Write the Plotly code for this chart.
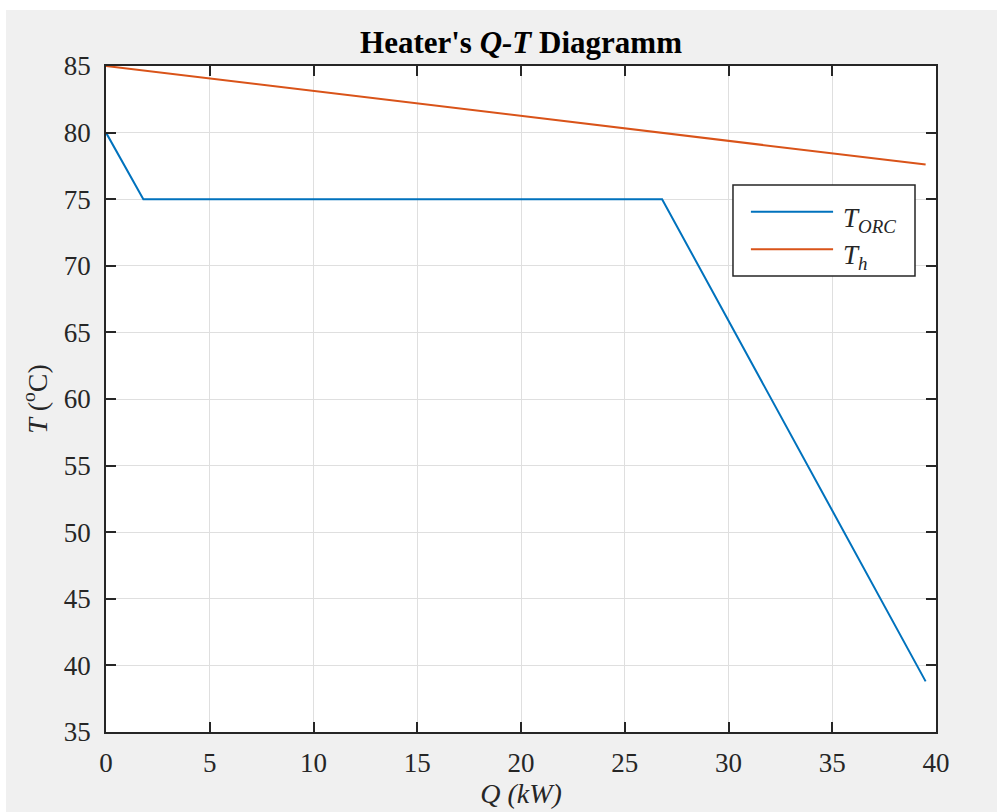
import plotly.graph_objects as go

# Heat flow (kW) and temperatures (degC) of the two streams in the heater
q_orc = [0.0, 1.8, 26.8, 39.5]
t_orc = [80.0, 75.0, 75.0, 38.8]
q_hot = [0.0, 39.5]
t_hot = [85.0, 77.6]

x_ticks = [0, 5, 10, 15, 20, 25, 30, 35, 40]
y_ticks = [35, 40, 45, 50, 55, 60, 65, 70, 75, 80, 85]

series_names = ["<i>T</i><sub><i>ORC</i></sub>", "<i>T</i><sub><i>h</i></sub>"]
series_colors = ["#0072BD", "#D95319"]

FONT = "Liberation Serif"
AXIS = "#262626"
GRID = "#dfdfdf"

fig = go.Figure()
fig.add_trace(go.Scatter(x=q_orc, y=t_orc, mode="lines", name=series_names[0],
                         line=dict(color=series_colors[0], width=2), showlegend=False))
fig.add_trace(go.Scatter(x=q_hot, y=t_hot, mode="lines", name=series_names[1],
                         line=dict(color=series_colors[1], width=2), showlegend=False))

axis_common = dict(
    showline=True, linecolor=AXIS, linewidth=1.5, mirror="allticks",
    ticks="inside", ticklen=10, tickwidth=1.5, tickcolor=AXIS,
    showgrid=True, gridcolor=GRID, gridwidth=1, zeroline=False,
    tickfont=dict(family=FONT, size=27, color=AXIS),
)

fig.update_xaxes(range=[0, 40], tickvals=x_ticks, ticklabelstandoff=6,
                 title=dict(text="<i>Q (kW)</i>", font=dict(family=FONT, size=28, color=AXIS), standoff=2),
                 **axis_common)
fig.update_yaxes(range=[35, 85], tickvals=y_ticks, ticklabelstandoff=8,
                 title=dict(text="<i>T</i> (<sup>o</sup>C)", font=dict(family=FONT, size=28, color=AXIS), standoff=8),
                 **axis_common)

# Figure frame, plot area and legend box
shapes = [
    dict(type="rect", xref="paper", yref="paper", x0=-0.1205, x1=1.0735, y0=-0.2, y1=1.084,
         fillcolor="#f0f0f0", line=dict(width=0), layer="below"),
    dict(type="rect", xref="paper", yref="paper", x0=0, x1=1, y0=0, y1=1,
         fillcolor="white", line=dict(width=0), layer="below"),
    dict(type="rect", xref="paper", yref="paper", x0=0.7554, x1=0.9747, y0=0.6847, y1=0.8213,
         fillcolor="white", line=dict(color=AXIS, width=1.5), layer="above"),
]
legend_y = [0.781, 0.725]
annotations = []
for name, color, ly in zip(series_names, series_colors, legend_y):
    shapes.append(dict(type="line", xref="paper", yref="paper", x0=0.777, x1=0.876, y0=ly, y1=ly,
                       line=dict(color=color, width=2), layer="above"))
    annotations.append(dict(text=name, xref="paper", yref="paper", x=0.886, y=ly - 0.012,
                            xanchor="left", yanchor="middle", showarrow=False,
                            font=dict(family=FONT, size=27, color=AXIS)))

fig.update_layout(
    width=1005, height=812,
    margin=dict(l=106, r=69, t=66, b=80),
    paper_bgcolor="white", plot_bgcolor="rgba(0,0,0,0)",
    title=dict(text="<b>Heater's <i>Q-T</i> Diagramm</b>", x=0.5, xref="paper",
               y=1 - 42 / 812, yref="container", yanchor="middle",
               font=dict(family=FONT, size=31, color="#000000")),
    shapes=shapes, annotations=annotations,
    showlegend=False,
)

fig.write_html("out.html")
